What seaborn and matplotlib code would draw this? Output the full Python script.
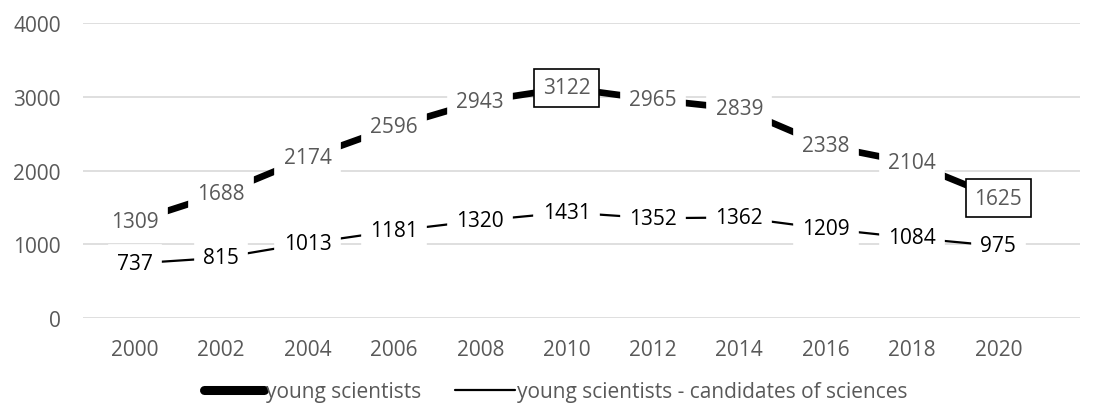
import numpy as np
import pandas as pd
import matplotlib
matplotlib.use("Agg")
import matplotlib.pyplot as plt
import seaborn as sns
from matplotlib.lines import Line2D

years = [2000, 2002, 2004, 2006, 2008, 2010, 2012, 2014, 2016, 2018, 2020]
young = [1309, 1688, 2174, 2596, 2943, 3122, 2965, 2839, 2338, 2104, 1625]
candidates = [737, 815, 1013, 1181, 1320, 1431, 1352, 1362, 1209, 1084, 975]
boxed_years = [2010, 2020]

sns.set_theme(style="white")
plt.rcParams["font.family"] = ["Open Sans", "DejaVu Sans"]

df = pd.DataFrame({"year": years, "young": young, "cand": candidates})

fig, ax = plt.subplots(figsize=(11.07, 4.06), dpi=100)
fig.subplots_adjust(left=0.075, right=0.976, top=0.94, bottom=0.215)

sns.lineplot(data=df, x="year", y="young", ax=ax, color="black", lw=4.8, zorder=2)
sns.lineplot(data=df, x="year", y="cand", ax=ax, color="black", lw=1.6, zorder=2)

fs = 15
for x, y in zip(years, young):
    edge = "black" if x in boxed_years else "white"
    ax.text(x, y, str(y), ha="center", va="center", fontsize=fs, color="#595959", zorder=3,
            bbox=dict(boxstyle="square,pad=0.4", fc="white", ec=edge, lw=1.2))
for x, y in zip(years, candidates):
    ax.text(x, y, str(y), ha="center", va="center", fontsize=fs, color="black", zorder=3,
            bbox=dict(boxstyle="square,pad=0.4", fc="white", ec="white", lw=1.2))

ax.set_xlim(1998.8, 2021.9)
ax.set_ylim(0, 4000)
ax.set_yticks([0, 1000, 2000, 3000, 4000])
ax.set_xticks(years)
ax.grid(axis="y", color="#d9d9d9", lw=1.2, zorder=0)
ax.set_axisbelow(True)
for s in ax.spines.values():
    s.set_visible(False)
ax.tick_params(axis="y", colors="#595959", labelsize=fs, length=0, pad=16)
ax.tick_params(axis="x", colors="#595959", labelsize=fs, length=0, pad=15)
ax.set_xlabel("")
ax.set_ylabel("")

handles = [Line2D([], [], color="black", lw=6.5, solid_capstyle="round"),
           Line2D([], [], color="black", lw=1.6)]
ax.legend(handles, ["young scientists", "young scientists - candidates of sciences"],
          loc="lower center", bbox_to_anchor=(0.474, -0.35), ncol=2, frameon=False,
          fontsize=fs, labelcolor="#595959",
          handlelength=2.9, handletextpad=0.1, columnspacing=1.6)

fig.savefig("out.png", dpi=100)
